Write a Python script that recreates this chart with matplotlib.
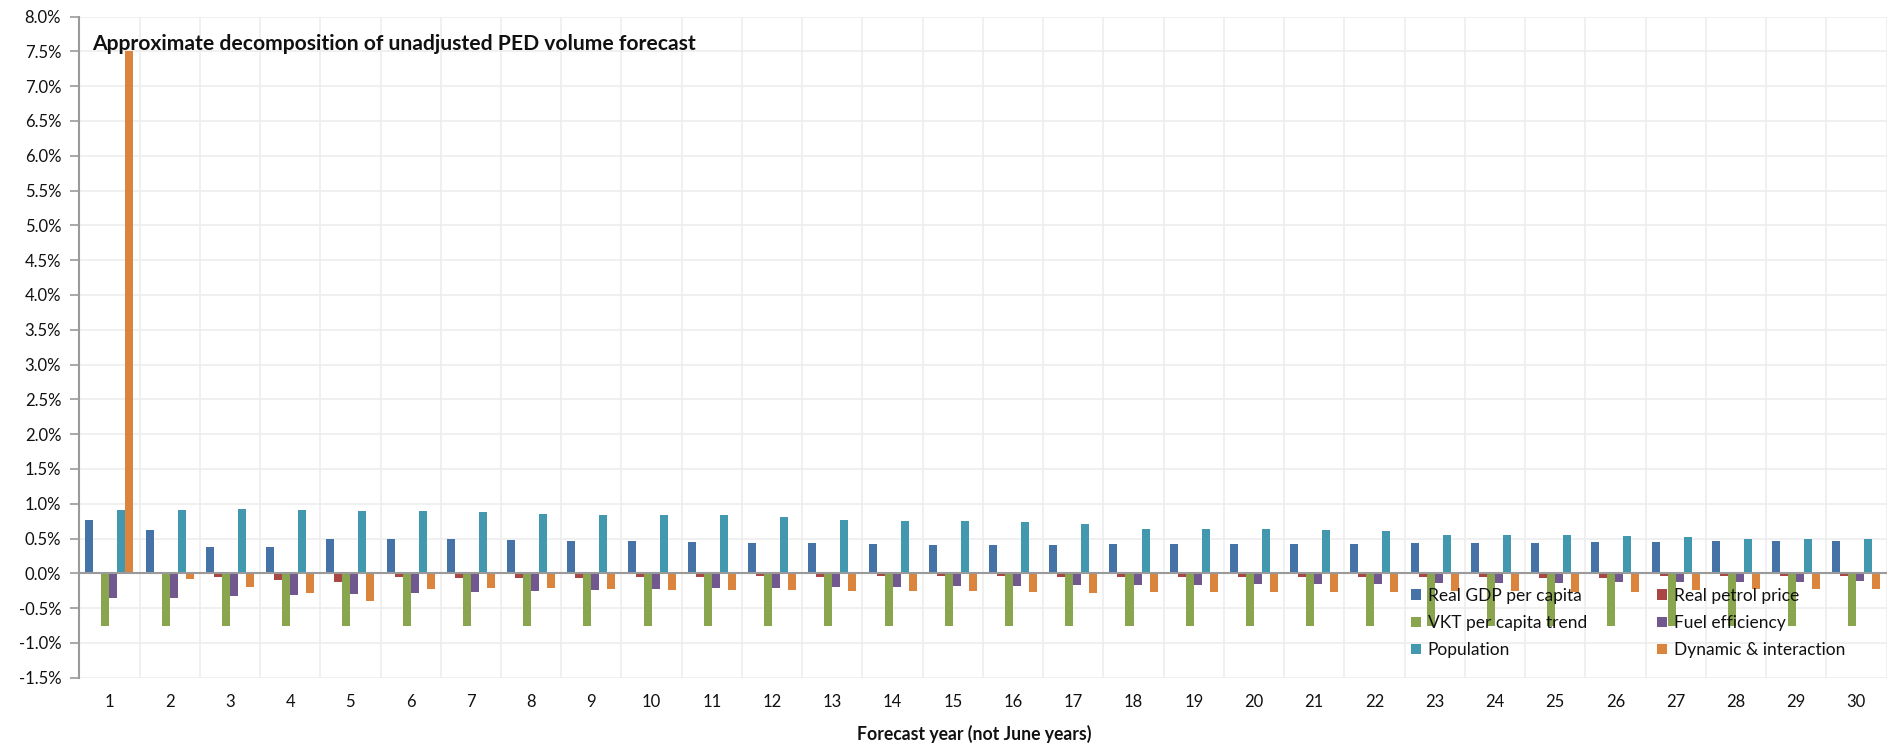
import matplotlib
matplotlib.use("Agg")
import matplotlib.pyplot as plt
import numpy as np
from matplotlib.patches import Patch

plt.rcParams['font.family'] = ['Lato', 'DejaVu Sans']

years = [str(i) for i in range(1, 31)]

real_gdp = [0.762, 0.619, 0.381, 0.376, 0.495, 0.500, 0.495, 0.480, 0.462, 0.462,
            0.448, 0.433, 0.433, 0.424, 0.410, 0.410, 0.410, 0.424, 0.419, 0.419,
            0.414, 0.419, 0.433, 0.433, 0.438, 0.443, 0.448, 0.467, 0.467, 0.467]
real_petrol = [0.000, -0.012, -0.048, -0.100, -0.129, -0.057, -0.062, -0.062, -0.062, -0.057,
               -0.048, -0.043, -0.057, -0.043, -0.043, -0.038, -0.057, -0.057, -0.057, -0.057,
               -0.048, -0.048, -0.057, -0.057, -0.071, -0.067, -0.038, -0.038, -0.038, -0.038]
vkt_trend = [-0.752] * 30
fuel_eff = [-0.357, -0.357, -0.333, -0.314, -0.300, -0.281, -0.267, -0.252, -0.238, -0.229,
            -0.214, -0.205, -0.200, -0.190, -0.186, -0.181, -0.171, -0.167, -0.162, -0.157,
            -0.152, -0.148, -0.143, -0.138, -0.133, -0.129, -0.124, -0.124, -0.119, -0.114]
population = [0.914, 0.910, 0.919, 0.910, 0.900, 0.890, 0.876, 0.852, 0.843, 0.838,
              0.833, 0.810, 0.762, 0.757, 0.748, 0.738, 0.714, 0.638, 0.638, 0.633,
              0.629, 0.610, 0.552, 0.548, 0.548, 0.543, 0.524, 0.490, 0.486, 0.486]
dynamic = [7.500, -0.081, -0.200, -0.286, -0.400, -0.229, -0.210, -0.210, -0.229, -0.238,
           -0.238, -0.238, -0.248, -0.248, -0.257, -0.267, -0.276, -0.267, -0.267, -0.267,
           -0.267, -0.267, -0.257, -0.252, -0.262, -0.271, -0.243, -0.224, -0.219, -0.219]

series_names = ["Real GDP per capita", "Real petrol price", "VKT per capita trend",
                "Fuel efficiency", "Population", "Dynamic & interaction"]
series_values = [real_gdp, real_petrol, vkt_trend, fuel_eff, population, dynamic]
colors = ["#4572A7", "#AA4643", "#89A54E", "#71588F", "#4198AF", "#DB843D"]

W, H = 1887, 755
fig = plt.figure(figsize=(W / 100, H / 100), dpi=100)
left_px, right_px, top_px, bot_px = 79.3, 1886.5, 16.5, 677.7
ax = fig.add_axes([left_px / W, 1 - bot_px / H, (right_px - left_px) / W, (bot_px - top_px) / H])

x = np.arange(len(years))
bw = 8 / 60.2
for i, (vals, c) in enumerate(zip(series_values, colors)):
    ax.bar(x + (i - 2.5) * bw, vals, width=bw, color=c, zorder=3, linewidth=0)

ax.set_xlim(-0.5, len(years) - 0.5)
ax.set_ylim(-1.5, 8.0)
yt = np.arange(-1.5, 8.01, 0.5)
ax.set_yticks(yt)
ax.set_yticklabels([f"{v:.1f}%" for v in yt])
ax.set_xticks(x)
ax.set_xticklabels(years)

grid_c = "#ededed"
for v in yt:
    ax.axhline(v, color=grid_c, lw=1.2, zorder=1)
for b in np.arange(-0.5, len(years) + 0.5, 1.0):
    ax.axvline(b, color=grid_c, lw=1.2, zorder=1)
ax.axhline(0, color="#9a9a9a", lw=1.5, zorder=4)

for s in ["top", "right", "bottom"]:
    ax.spines[s].set_visible(False)
ax.spines["left"].set_color("#9a9a9a")
ax.spines["left"].set_linewidth(1.5)
ax.spines["left"].set_zorder(5)

ax.tick_params(axis="y", length=6.5, width=1.2, color="#9a9a9a", pad=6.5, labelsize=12, labelcolor="#111111")
ax.tick_params(axis="x", length=0, pad=12, labelsize=12, labelcolor="#111111")

fig.text(92 / W, 1 - 44 / H, "Approximate decomposition of unadjusted PED volume forecast",
         fontsize=15.2, fontweight="bold", va="center", ha="left", color="#111111")
fig.text(974.5 / W, 1 - 734 / H, "Forecast year (not June years)",
         fontsize=12.7, fontweight="bold", va="center", ha="center", color="#111111")

order = [0, 2, 4, 1, 3, 5]
handles = [Patch(facecolor=colors[i], edgecolor="none") for i in order]
labels = [series_names[i] for i in order]
leg = fig.legend(handles, labels, ncol=2, loc="upper left",
                 bbox_to_anchor=(1411 / W, 1 - 588 / H), frameon=False,
                 fontsize=12.5, handlelength=0.575, handleheight=0.575,
                 handletextpad=0.38, columnspacing=4.05, labelspacing=0.64,
                 borderpad=0, borderaxespad=0)
for t in leg.get_texts():
    t.set_color("#111111")

fig.savefig("out.png", dpi=100)
